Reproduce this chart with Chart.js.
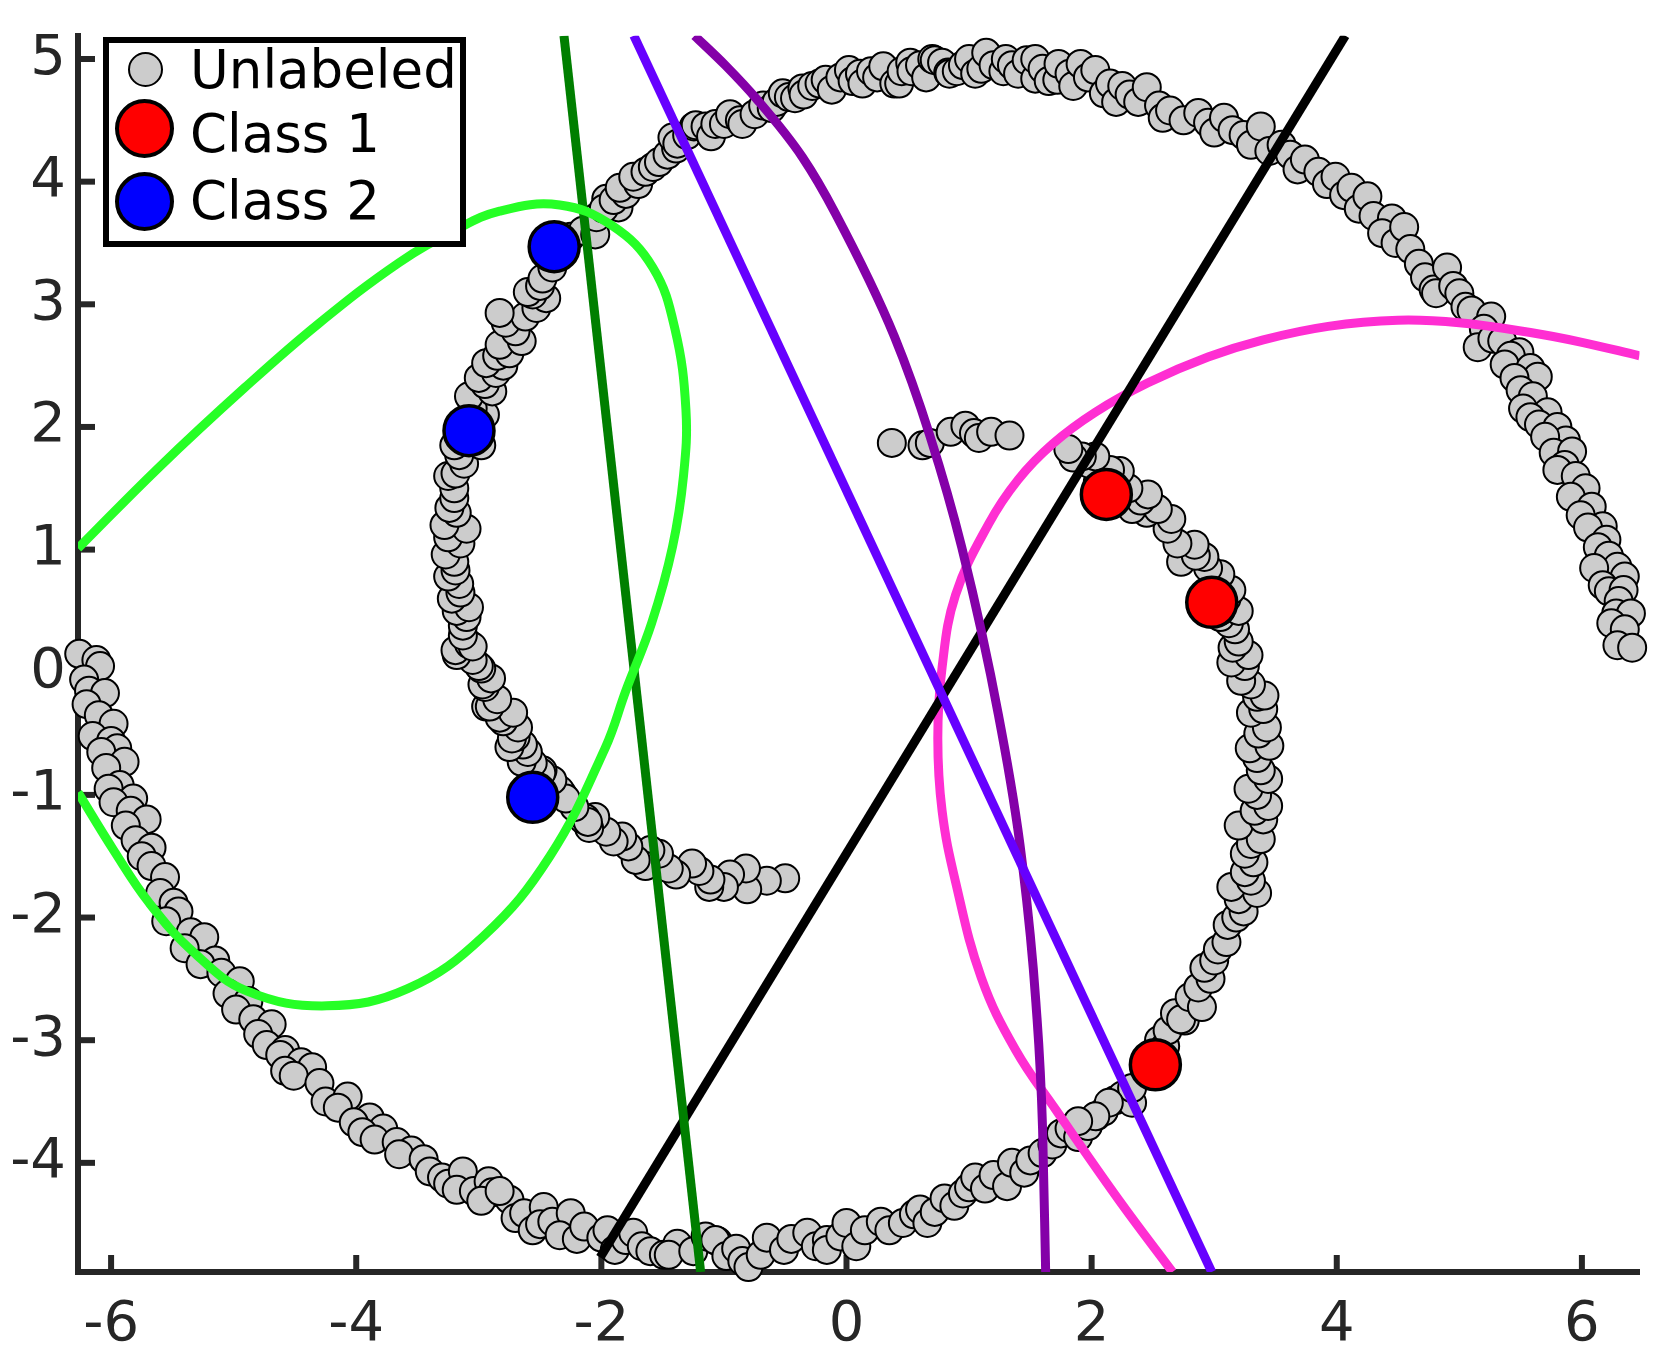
<!DOCTYPE html>
<html>
<head>
<meta charset="utf-8">
<script src="https://cdn.jsdelivr.net/npm/chart.js@4.4.1/dist/chart.umd.min.js"></script>
<style>
html,body{margin:0;padding:0;background:#fff;}
#wrap{position:relative;width:1668px;height:1367px;overflow:hidden;}
#c{position:absolute;left:0;top:0;}
#legend{position:absolute;left:103px;top:37px;width:351px;height:198px;border:6px solid #000;background:#fff;font-family:"DejaVu Sans",sans-serif;font-size:53px;color:#000;}
.mk{position:absolute;border-radius:50%;box-sizing:border-box;border:solid #000;}
.lbl{position:absolute;left:81px;line-height:1;white-space:nowrap;}
</style>
</head>
<body>
<div id="wrap">
<canvas id="c" width="1668" height="1367"></canvas>
<div id="legend"></div>
</div>
<script>
// ---- data ----
const xTicks = [-6, -4, -2, 0, 2, 4, 6];
const yTicks = [-4, -3, -2, -1, 0, 1, 2, 3, 4, 5];
const legendLabels = ['Unlabeled', 'Class 1', 'Class 2'];

const unlabeledOuterLeft = [
  [-6.26,0.15],[-6.12,0.10],[-6.09,0.05],[-6.22,-0.06],[-6.18,-0.15],[-6.05,-0.17],[-6.20,-0.26],[-6.10,-0.35],
  [-5.98,-0.42],[-6.15,-0.52],[-6.00,-0.56],[-5.95,-0.62],[-6.08,-0.65],[-5.89,-0.73],[-6.04,-0.78],[-5.93,-0.92],
  [-6.02,-0.95],[-5.82,-1.03],[-5.98,-1.06],[-5.84,-1.13],[-5.71,-1.20],[-5.88,-1.25],[-5.80,-1.37],[-5.67,-1.43],
  [-5.75,-1.50],[-5.67,-1.58],[-5.56,-1.67],[-5.60,-1.80],[-5.49,-1.88],[-5.45,-1.95],[-5.55,-2.03],[-5.35,-2.12],
  [-5.24,-2.16],[-5.40,-2.25],[-5.15,-2.35],[-5.27,-2.38],[-5.10,-2.45],[-4.95,-2.52],[-5.05,-2.62],[-4.88,-2.68],
  [-4.98,-2.75],[-4.84,-2.83],[-4.69,-2.87],[-4.80,-2.95],[-4.73,-3.04],[-4.58,-3.08],[-4.62,-3.12],[-4.45,-3.18],
  [-4.36,-3.22],[-4.58,-3.25],[-4.51,-3.29],[-4.30,-3.35],[-4.25,-3.50],[-4.07,-3.46],[-4.15,-3.55],[-3.89,-3.63],
  [-4.02,-3.67],[-3.78,-3.72],[-3.95,-3.75],[-3.85,-3.81],[-3.67,-3.83],[-3.55,-3.90],[-3.65,-3.93],[-3.45,-3.97],
  [-3.40,-4.07],[-3.30,-4.12],[-3.25,-4.17],[-3.13,-4.07],[-3.18,-4.22],[-3.04,-4.23],[-2.92,-4.15],[-2.89,-4.24],
  [-2.98,-4.31],[-2.75,-4.30],[-2.70,-4.45]
];
const unlabeledBottom = [
  [-2.83,-4.23],[-2.63,-4.41],[-2.47,-4.36],[-2.56,-4.55],[-2.50,-4.50],[-2.40,-4.48],[-2.25,-4.41],[-2.34,-4.59],
  [-2.20,-4.62],[-2.14,-4.52],[-2.00,-4.61],[-1.95,-4.55],[-1.89,-4.71],[-1.80,-4.63],[-1.74,-4.57],[-1.67,-4.68],
  [-1.60,-4.72],[-1.49,-4.75],[-1.38,-4.66],[-1.45,-4.75],[-1.25,-4.72],[-1.15,-4.60],[-1.05,-4.64],[-1.07,-4.63],
  [-0.98,-4.76],[-0.90,-4.70],[-0.85,-4.80],[-0.80,-4.85],[-0.70,-4.75],[-0.65,-4.61],[-0.51,-4.71],[-0.45,-4.62],
  [-0.32,-4.57],[-0.25,-4.68],[-0.16,-4.63],[-0.16,-4.71],[-0.05,-4.60],[0.00,-4.49],[0.08,-4.68],[0.15,-4.55],
  [0.28,-4.48],[0.35,-4.55],[0.46,-4.49],[0.55,-4.42],[0.60,-4.38],[0.66,-4.49],[0.72,-4.40],[0.80,-4.29],
  [0.88,-4.35],[0.95,-4.25],[1.00,-4.20],[1.05,-4.12],[1.13,-4.21],[1.20,-4.10],[1.31,-4.19],[1.35,-4.00],
  [1.45,-4.08],[1.50,-3.98],[1.60,-3.92],[1.68,-3.85],[1.75,-3.76],[1.82,-3.72],[1.89,-3.79],[1.97,-3.70],
  [2.04,-3.62],[2.10,-3.58],[2.19,-3.49],[2.25,-3.45],[2.33,-3.51],[2.33,-3.39],[2.14,-3.51],[2.03,-3.62],[1.89,-3.66]
];
const unlabeledRightInner = [
  [2.45,-3.15],[2.55,-3.00],[2.60,-3.05],[2.62,-2.92],[2.68,-2.78],[2.76,-2.84],[2.73,-2.83],[2.80,-2.65],
  [2.90,-2.73],[2.87,-2.57],[2.97,-2.50],[2.92,-2.41],[3.00,-2.35],[3.03,-2.26],[3.10,-2.20],[3.11,-2.06],
  [3.18,-2.00],[3.24,-1.95],[3.20,-1.85],[3.35,-1.80],[3.14,-1.75],[3.30,-1.70],[3.25,-1.63],[3.32,-1.55],
  [3.25,-1.48],[3.30,-1.40],[3.38,-1.36],[3.20,-1.25],[3.40,-1.20],[3.33,-1.13],[3.44,-1.09],[3.35,-1.00],
  [3.28,-0.95],[3.44,-0.87],[3.38,-0.80],[3.35,-0.70],[3.29,-0.62],[3.45,-0.60],[3.36,-0.50],[3.43,-0.45],
  [3.30,-0.33],[3.40,-0.30],[3.35,-0.20],[3.41,-0.19],[3.30,-0.10],[3.22,-0.07],[3.25,0.05],[3.14,0.08],
  [3.28,0.14],[3.15,0.20],[3.20,0.25],[3.17,0.35],[3.12,0.40],[3.05,0.45],[3.20,0.50],[3.05,0.50],
  [3.10,0.60],[3.14,0.67],[3.00,0.75],[3.05,0.80],[2.95,0.85],[2.92,0.94],[2.73,0.90],[2.85,0.95],
  [2.84,1.04],[2.70,1.05],[2.62,1.17],[2.65,1.25],[2.45,1.30],[2.54,1.33],[2.33,1.33],[2.40,1.40],
  [2.46,1.45],[2.30,1.50],[2.23,1.64],[2.15,1.65],[2.05,1.55],[1.98,1.70],[2.03,1.76],[1.92,1.76],
  [1.85,1.75],[1.81,1.82]
];
const unlabeledCenter = [
  [0.37,1.87],[0.62,1.85],[0.68,1.87],[0.85,1.96],[0.97,2.01],[1.04,1.95],[1.08,1.91],[1.18,1.96],[1.33,1.93]
];
const unlabeledInnerLeft = [
  [-0.50,-1.68],[-0.65,-1.70],[-0.81,-1.77],[-0.82,-1.60],[-0.95,-1.65],[-1.00,-1.75],[-1.12,-1.75],[-1.11,-1.69],
  [-1.20,-1.62],[-1.26,-1.56],[-1.39,-1.65],[-1.45,-1.60],[-1.53,-1.48],[-1.60,-1.45],[-1.64,-1.58],[-1.72,-1.53],
  [-1.78,-1.42],[-1.83,-1.34],[-1.90,-1.38],[-1.96,-1.30],[-2.05,-1.18],[-2.10,-1.27],[-2.15,-1.20],[-2.13,-1.19],
  [-2.11,-1.22],[-2.22,-1.10],[-2.32,-0.99],[-2.34,-0.96],[-2.29,-1.03],[-2.40,-0.88],[-2.48,-0.80],[-2.49,-0.82],
  [-2.56,-0.74],[-2.65,-0.73],[-2.60,-0.65],[-2.64,-0.59],[-2.75,-0.61],[-2.70,-0.53],[-2.73,-0.54],[-2.68,-0.45],
  [-2.80,-0.40],[-2.83,-0.37],[-2.72,-0.33],[-2.94,-0.28],[-2.91,-0.28],[-2.85,-0.22],[-2.95,-0.12],[-2.97,-0.10],
  [-2.90,-0.05],[-2.98,0.03],[-3.00,0.05],[-3.05,0.10],[-3.18,0.14],[-3.19,0.18],[-3.08,0.23],[-3.05,0.21],
  [-3.13,0.30],[-3.13,0.38],[-3.10,0.45],[-3.18,0.50],[-3.08,0.53],[-3.22,0.60],[-3.15,0.65],[-3.16,0.72],
  [-3.25,0.78],[-3.19,0.83],[-3.20,0.90],[-3.27,0.96],[-3.15,1.05],[-3.25,1.10],[-3.10,1.17],[-3.28,1.20],
  [-3.18,1.30],[-3.24,1.34],[-3.20,1.42],[-3.20,1.50],[-3.25,1.60],[-3.19,1.62],[-3.12,1.70],[-3.16,1.77],
  [-2.98,1.85],[-3.20,1.85],[-3.12,1.90],[-3.02,2.05],[-2.95,2.10],[-3.05,2.15],[-3.08,2.25],[-2.89,2.29],
  [-2.95,2.35],[-3.00,2.40],[-2.86,2.44],[-2.80,2.50],[-2.94,2.52],[-2.85,2.58],[-2.75,2.60],[-2.83,2.67],
  [-2.65,2.70],[-2.70,2.78],[-2.78,2.85],[-2.62,2.90],[-2.83,2.93],[-2.53,2.97],[-2.45,3.05],[-2.56,3.08],
  [-2.60,3.10],[-2.50,3.15],[-2.48,3.21],[-2.40,3.30],[-2.30,3.45],[-2.25,3.55],[-2.15,3.60],[-2.05,3.57],
  [-1.86,3.79],[-1.96,3.86]
];
const unlabeledTop = [
  [-2.04,3.71],[-1.98,3.78],[-1.90,3.85],[-1.80,3.90],[-1.85,3.95],[-1.70,3.98],[-1.74,4.04],[-1.64,4.08],
  [-1.58,4.12],[-1.53,4.16],[-1.46,4.22],[-1.39,4.27],[-1.42,4.36],[-1.38,4.31],[-1.30,4.38],[-1.245,4.45],
  [-1.23,4.46],[-1.15,4.45],[-1.105,4.37],[-1.07,4.47],[-1.00,4.47],[-0.95,4.55],[-0.87,4.50],[-0.85,4.47],
  [-0.75,4.55],[-0.68,4.62],[-0.61,4.60],[-0.57,4.65],[-0.52,4.72],[-0.47,4.69],[-0.42,4.68],[-0.36,4.76],
  [-0.35,4.71],[-0.28,4.78],[-0.22,4.80],[-0.17,4.83],[-0.12,4.75],[-0.05,4.85],[0.02,4.91],[0.05,4.82],
  [0.11,4.88],[0.13,4.80],[0.20,4.90],[0.25,4.85],[0.30,4.94],[0.39,4.80],[0.43,4.80],[0.45,4.90],
  [0.52,4.97],[0.53,4.90],[0.60,4.95],[0.65,4.85],[0.70,5.00],[0.72,4.99],[0.78,4.97],[0.83,4.89],
  [0.84,4.88],[0.90,4.90],[0.95,4.95],[1.00,5.00],[1.05,4.88],[1.10,4.92],[1.14,5.05],[1.20,4.95],
  [1.28,4.90],[1.30,5.00],[1.35,4.95],[1.40,4.88],[1.47,4.99],[1.54,4.84],[1.54,5.00],[1.60,4.92],
  [1.65,4.82],[1.72,4.83],[1.73,4.96],[1.82,4.88],[1.85,4.78],[1.91,4.96],[1.97,4.85],[2.03,4.91],
  [2.10,4.72],[2.15,4.80],[2.20,4.65],[2.25,4.78],[2.31,4.71],[2.38,4.65],[2.45,4.77],[2.55,4.62],
  [2.58,4.52],[2.64,4.58],[2.75,4.50],[2.87,4.56],[2.95,4.48],[3.00,4.40],[3.08,4.52],[3.15,4.42],
  [3.24,4.38],[3.30,4.30],[3.38,4.45],[3.45,4.25],[3.55,4.30],[3.62,4.22],[3.68,4.10],[3.74,4.18],
  [3.85,4.08],[3.92,3.98],[3.99,4.04],[4.06,3.89],[4.12,3.95],[4.18,3.78],[4.25,3.88],[4.30,3.72],
  [4.45,3.70],[4.37,3.58],[4.48,3.50],[4.55,3.63],[4.60,3.45],[4.67,3.33],[4.72,3.22],[4.79,3.12]
];
const unlabeledOuterRight = [
  [4.90,3.30],[4.81,3.09],[4.95,3.15],[5.00,3.09],[5.05,2.98],[5.10,2.95],[5.26,2.90],[5.20,2.80],
  [5.15,2.65],[5.27,2.72],[5.35,2.70],[5.49,2.61],[5.42,2.58],[5.37,2.51],[5.58,2.48],[5.64,2.41],
  [5.45,2.40],[5.50,2.30],[5.60,2.25],[5.52,2.15],[5.72,2.12],[5.58,2.08],[5.65,2.02],[5.80,2.00],
  [5.87,1.89],[5.70,1.92],[5.77,1.79],[5.92,1.80],[5.86,1.69],[5.80,1.65],[5.95,1.60],[6.03,1.50],
  [5.91,1.43],[6.08,1.35],[5.99,1.28],[6.17,1.19],[6.05,1.18],[6.20,1.08],[6.13,1.02],[6.22,0.95],
  [6.29,0.86],[6.10,0.85],[6.35,0.78],[6.17,0.71],[6.22,0.66],[6.34,0.67],[6.30,0.58],[6.28,0.48],
  [6.40,0.48],[6.24,0.40],[6.35,0.35],[6.29,0.22],[6.41,0.20]
];
const class1 = [[2.12,1.45],[2.98,0.57],[2.52,-3.20]];
const class2 = [[-2.385,3.47],[-3.08,1.97],[-2.56,-1.02]];

const curveLightGreen = [
  [-6.27,1.01],[-5.61,1.67],[-4.91,2.32],[-4.31,2.84],[-3.65,3.34],[-3.20,3.60],[-2.83,3.76],[-2.34,3.81],
  [-1.91,3.64],[-1.58,3.30],[-1.40,2.80],[-1.31,2.14],[-1.33,1.60],[-1.42,1.02],[-1.59,0.40],[-1.80,-0.15],
  [-1.97,-0.62],[-2.42,-1.50],[-2.96,-2.15],[-3.58,-2.58],[-4.24,-2.72],[-4.89,-2.60],[-5.33,-2.28],
  [-5.69,-1.88],[-5.98,-1.45],[-6.27,-0.98]
];
const lineDarkGreen = [[-2.305,5.19],[-1.19,-4.89]];
const lineViolet = [[-1.735,5.19],[2.98,-4.89]];
const curvePurple = [
  [-1.24,5.19],[-0.99,4.95],[-0.73,4.67],[-0.36,4.20],[-0.09,3.74],[0.39,2.74],[0.68,1.93],[0.94,1.02],
  [1.24,-0.35],[1.43,-1.52],[1.545,-2.69],[1.60,-3.73],[1.625,-4.89]
];
const lineBlack = [[-2.01,-4.77],[4.07,5.19]];
const curveMagenta = [
  [2.66,-4.89],[2.22,-4.30],[1.71,-3.57],[1.38,-3.08],[1.10,-2.49],[0.89,-1.71],[0.78,-1.13],[0.745,-0.54],
  [0.78,0.04],[0.89,0.63],[1.16,1.21],[1.40,1.57],[1.68,1.86],[2.03,2.12],[2.46,2.36],[2.95,2.57],
  [3.40,2.71],[3.93,2.82],[4.50,2.87],[5.00,2.85],[5.58,2.77],[6.00,2.69],[6.47,2.58]
];

const X_MIN = -6.27, X_MAX = 6.47, Y_MIN = -4.89, Y_MAX = 5.19;

// ---- build chart ----
const pts = a => a.map(([x, y]) => ({x, y}));
const unlabeled = [].concat(unlabeledOuterLeft, unlabeledBottom, unlabeledRightInner,
  unlabeledCenter, unlabeledInnerLeft, unlabeledTop, unlabeledOuterRight);

const lineDs = (data, color, tension, mono) => ({
  data: pts(data), showLine: true, borderColor: color, borderWidth: 9, pointRadius: 0,
  tension: tension, cubicInterpolationMode: mono ? 'monotone' : 'default',
  fill: false, clip: 0, order: 0, borderCapStyle: 'butt'
});

const innerTicks = {
  id: 'innerTicks',
  beforeDatasetsDraw(chart) {
    const {ctx, chartArea, scales} = chart;
    ctx.save();
    ctx.strokeStyle = '#262626';
    ctx.lineWidth = 6;
    xTicks.forEach(v => {
      const px = scales.x.getPixelForValue(v);
      ctx.beginPath(); ctx.moveTo(px, chartArea.bottom); ctx.lineTo(px, chartArea.bottom - 17); ctx.stroke();
    });
    yTicks.forEach(v => {
      const py = scales.y.getPixelForValue(v);
      ctx.beginPath(); ctx.moveTo(chartArea.left, py); ctx.lineTo(chartArea.left + 17, py); ctx.stroke();
    });
    ctx.restore();
  }
};

const tickFont = {family: 'DejaVu Sans', size: 56};

new Chart(document.getElementById('c'), {
  type: 'scatter',
  data: {
    datasets: [
      lineDs(curveLightGreen, '#26ff26', 0.4),
      lineDs(lineDarkGreen, '#007f00', 0),
      lineDs(lineViolet, '#6600ff', 0),
      lineDs(curvePurple, '#8400a8', 0.4, true),
      lineDs(lineBlack, '#000000', 0),
      lineDs(curveMagenta, '#ff2ed2', 0.4),
      {label: legendLabels[2], data: pts(class2), pointRadius: 25, pointBackgroundColor: '#0000ff',
       pointBorderColor: '#000', pointBorderWidth: 3.5, showLine: false, clip: false, order: 1},
      {label: legendLabels[1], data: pts(class1), pointRadius: 25, pointBackgroundColor: '#ff0000',
       pointBorderColor: '#000', pointBorderWidth: 3.5, showLine: false, clip: false, order: 1},
      {label: legendLabels[0], data: pts(unlabeled), pointRadius: 14, pointBackgroundColor: '#cccccc',
       pointBorderColor: '#000', pointBorderWidth: 2, showLine: false, clip: false, order: 2}
    ]
  },
  options: {
    responsive: false,
    animation: false,
    devicePixelRatio: 1,
    events: [],
    layout: {padding: {top: 35.7, right: 26, left: 0, bottom: 0}},
    plugins: {legend: {display: false}, tooltip: {enabled: false}},
    scales: {
      x: {
        type: 'linear', min: X_MIN, max: X_MAX,
        afterBuildTicks: s => { s.ticks = xTicks.map(v => ({value: v})); },
        afterFit: s => { s.height = 95; s.paddingLeft = 0; s.paddingRight = 0; },
        grid: {display: false, drawTicks: false},
        border: {display: true, color: '#262626', width: 6},
        ticks: {font: tickFont, color: '#262626', padding: 20, maxRotation: 0, autoSkip: false,
                callback: v => String(v)}
      },
      y: {
        type: 'linear', min: Y_MIN, max: Y_MAX,
        afterBuildTicks: s => { s.ticks = yTicks.map(v => ({value: v})); },
        afterFit: s => { s.width = 78; s.paddingTop = 0; s.paddingBottom = 0; },
        grid: {display: false, drawTicks: false},
        border: {display: true, color: '#262626', width: 6},
        ticks: {font: tickFont, color: '#262626', padding: 12, autoSkip: false,
                callback: v => String(v)}
      }
    }
  },
  plugins: [innerTicks]
});

// ---- legend (HTML, real text) ----
const legendEl = document.getElementById('legend');
const legendItems = [
  {label: legendLabels[0], fill: '#cccccc', d: 35, bw: 2, cx: 36, cy: 26, ty: -0.5},
  {label: legendLabels[1], fill: '#ff0000', d: 59, bw: 4, cx: 35, cy: 85, ty: 64},
  {label: legendLabels[2], fill: '#0000ff', d: 59, bw: 4, cx: 35, cy: 158, ty: 130.5}
];
legendItems.forEach(it => {
  const m = document.createElement('div');
  m.className = 'mk';
  m.style.cssText = `left:${it.cx - it.d / 2}px;top:${it.cy - it.d / 2}px;width:${it.d}px;height:${it.d}px;background:${it.fill};border-width:${it.bw}px;`;
  legendEl.appendChild(m);
  const t = document.createElement('div');
  t.className = 'lbl';
  t.style.top = it.ty + 'px';
  t.textContent = it.label;
  legendEl.appendChild(t);
});
</script>
</body>
</html>
